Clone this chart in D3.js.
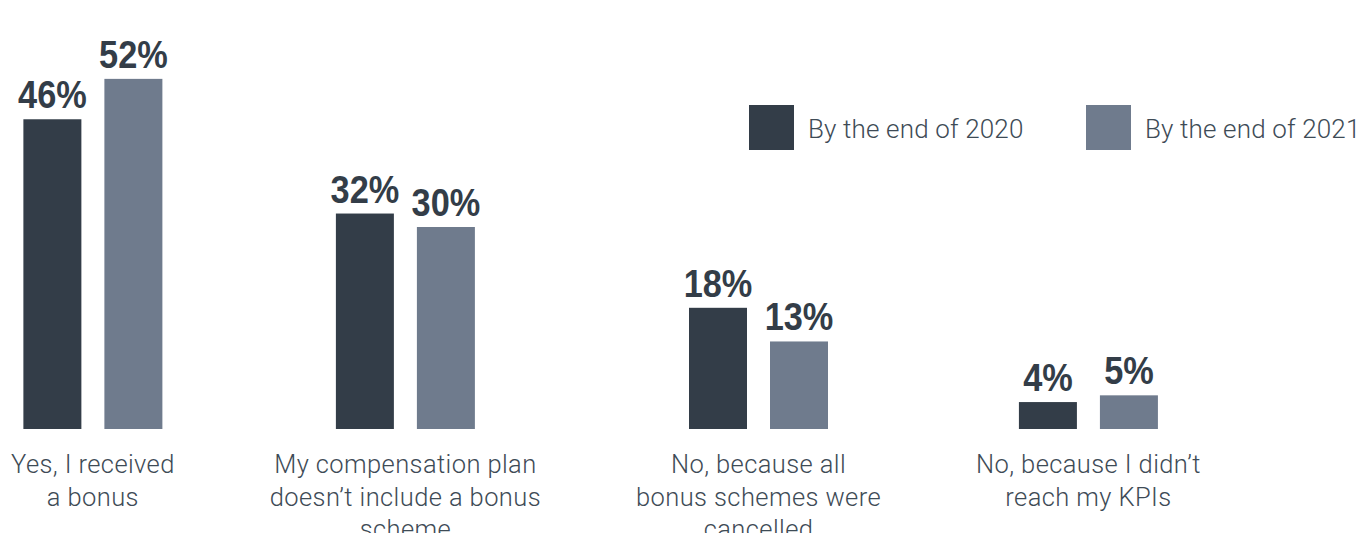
<!DOCTYPE html>
<html>
<head>
<meta charset="utf-8">
<script src="https://cdn.jsdelivr.net/npm/d3@7/dist/d3.min.js"></script>
<style>
  html, body { margin: 0; padding: 0; background: #ffffff; }
  svg { display: block; }
  .cat { font-family: Roboto, "Helvetica Neue", Helvetica, Arial, sans-serif; font-weight: 300; fill: #3e4b56; letter-spacing: 0.4px; }
  .val { font-family: "Liberation Sans", Arial, sans-serif; font-weight: 700; fill: #333d48; }
  .leg { font-family: Roboto, "Helvetica Neue", Helvetica, Arial, sans-serif; font-weight: 300; fill: #3e4b56; letter-spacing: 0.15px; }
</style>
</head>
<body>
<svg id="chart" width="1363" height="533"></svg>
<script>
// Survey answers, one entry per category (line breaks mark the label wrapping)
const categories = [
  "Yes, I received\na bonus",
  "My compensation plan\ndoesn’t include a bonus\nscheme",
  "No, because all\nbonus schemes were\ncancelled",
  "No, because I didn’t\nreach my KPIs"
];
const seriesNames = ["By the end of 2020", "By the end of 2021"];
const values2020 = [46, 32, 18, 4];
const values2021 = [52, 30, 13, 5];

const colors = ["#333d48", "#6f7b8d"];
const baseline = 429;

const svg = d3.select("#chart");

const rows = categories.map((c, i) => ({
  category: c,
  lines: c.split("\n"),
  values: [values2020[i], values2021[i]]
}));

// Vertical scale: percent -> pixel
const y = d3.scaleLinear().domain([0, 60]).range([baseline, 25]);

// Bars inside a group
const groupWidth = 139;
const xInner = d3.scaleBand()
  .domain(seriesNames)
  .range([0, groupWidth])
  .paddingInner(0.284)
  .paddingOuter(0);

// Category labels first, so each column can be sized to its text
const catFont = 25.5, lineH = 32.5, firstLine = 473;
const catLabels = svg.append("g").selectAll("text.cat")
  .data(rows)
  .join("text")
  .attr("class", "cat")
  .attr("text-anchor", "middle")
  .style("font-size", catFont + "px");
catLabels.selectAll("tspan")
  .data(d => d.lines)
  .join("tspan")
  .attr("x", 0)
  .attr("y", (d, i) => firstLine + i * lineH)
  .text(d => d);

// Column widths from the widest label line (never narrower than the bar group)
const widths = [];
catLabels.each(function () {
  let w = 0;
  d3.select(this).selectAll("tspan").each(function () {
    w = Math.max(w, this.getComputedTextLength());
  });
  widths.push(Math.max(w, groupWidth));
});
const leftMargin = 11, colGap = 95;
const centers = [];
let cursor = leftMargin;
widths.forEach(w => { centers.push(cursor + w / 2); cursor += w + colGap; });
const x = d3.scaleOrdinal().domain(categories).range(centers);

catLabels.attr("transform", d => `translate(${x(d.category)},0)`);

// Bars and value labels
const groups = svg.append("g").selectAll("g.grp")
  .data(rows)
  .join("g")
  .attr("class", "grp")
  .attr("transform", d => `translate(${x(d.category) - groupWidth / 2},0)`);

const cells = groups.selectAll("g.cell")
  .data(d => d.values.map((v, i) => ({ series: seriesNames[i], value: v, idx: i })))
  .join("g")
  .attr("class", "cell");

cells.append("rect")
  .attr("x", d => xInner(d.series))
  .attr("width", xInner.bandwidth())
  .attr("y", d => y(d.value))
  .attr("height", d => baseline - y(d.value))
  .attr("fill", d => colors[d.idx]);

// Condensed bold value labels: horizontally squeezed bold face
cells.append("g")
  .attr("transform", d => `translate(${xInner(d.series) + xInner.bandwidth() / 2},${y(d.value) - 11}) scale(0.88,1)`)
  .append("text")
  .attr("class", "val")
  .attr("text-anchor", "middle")
  .style("font-size", "39px")
  .text(d => d.value + "%");

// Legend
const legend = svg.append("g").attr("transform", "translate(749,105)");
const legItems = legend.selectAll("g")
  .data(seriesNames)
  .join("g")
  .attr("transform", (d, i) => `translate(${i * 337},0)`);
legItems.append("rect")
  .attr("width", 45).attr("height", 45)
  .attr("fill", (d, i) => colors[i]);
legItems.append("text")
  .attr("class", "leg")
  .attr("x", 59)
  .attr("y", 32.5)
  .style("font-size", "26px")
  .text(d => d);
</script>
</body>
</html>
